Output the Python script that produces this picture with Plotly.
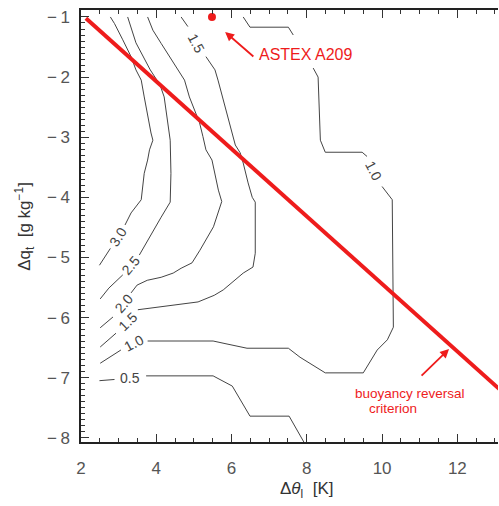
import plotly.graph_objects as go

# ---- data ----
# contour polylines (Δθ_l, Δq_t); None = gap where a label sits
c30_x = [2.78, 2.89, 3.11, 3.33, 3.46, 3.60, 3.68, 3.77, 3.86, 3.91, 3.82, 3.77, 3.68, 3.60, 3.33, 3.17, None, 2.78, 2.49]
c30_y = [-1.00, -1.11, -1.38, -1.66, -1.88, -2.05, -2.33, -2.66, -2.93, -3.05, -3.21, -3.38, -3.60, -4.04, -4.26, -4.46, None, -4.85, -5.13]

c25_x = [3.24, 3.46, 3.84, 4.10, 4.21, 4.29, 4.37, 4.39, 4.37, 4.13, 3.78, 3.55, None, 3.11, 2.74, 2.51]
c25_y = [-1.00, -1.43, -1.88, -2.13, -2.33, -2.66, -3.05, -3.60, -4.08, -4.33, -4.71, -4.96, None, -5.29, -5.51, -5.69]

c20_x = [3.77, 3.91, 4.13, 4.35, 4.57, 4.75, 4.88, 5.01, 5.15, 5.24, 5.32, 5.48, 5.65, 5.74, 5.65, 5.52, 5.16, 4.95, 4.66, 4.45, 4.13, 3.76, 3.49, 3.33, None, 2.85, 2.51]
c20_y = [-1.00, -1.22, -1.44, -1.66, -1.88, -2.05, -2.33, -2.55, -2.76, -2.99, -3.21, -3.38, -3.88, -4.07, -4.24, -4.49, -4.88, -5.09, -5.18, -5.26, -5.33, -5.38, -5.46, -5.59, None, -5.99, -6.17]

c15_x = [4.66, 4.84, None, 5.32, 5.56, 5.64, 5.78, 5.96, 6.10, 6.23, 6.31, 6.44, 6.55, 6.63, 6.63, 6.57, 6.31, 5.78, 5.54, 5.11, 3.78, 3.51, None, 2.93, 2.51]
c15_y = [-1.00, -1.16, None, -1.66, -1.88, -2.05, -2.38, -2.83, -3.13, -3.26, -3.43, -3.76, -4.00, -4.08, -4.93, -5.16, -5.26, -5.54, -5.63, -5.74, -5.84, -5.87, None, -6.26, -6.49]

c10_x = [6.31, 6.49, 7.51, 7.64, None, 8.17, 8.30, 8.36, 8.49, 9.47, 9.60, None, 10.00, 10.27, 10.30, 10.14, 9.87, 9.50, 8.49, 7.82, 7.51, 6.41, 5.88, 5.51, 3.77, None, 3.06, 2.51]
c10_y = [-1.00, -1.17, -1.17, -1.30, None, -1.85, -2.00, -3.05, -3.25, -3.25, -3.32, None, -3.82, -4.04, -6.16, -6.37, -6.54, -6.92, -6.92, -6.66, -6.51, -6.51, -6.44, -6.39, -6.39, None, -6.54, -6.76]

c05_x = [2.49, 2.89, None, 3.73, 5.51, 6.02, 6.49, 7.53, 7.93]
c05_y = [-7.05, -7.03, None, -6.97, -6.97, -7.14, -7.64, -7.64, -8.08]

contours = [(c30_x, c30_y), (c25_x, c25_y), (c20_x, c20_y),
            (c15_x, c15_y), (c10_x, c10_y), (c05_x, c05_y)]

# contour labels: text, x, y, angle
label_text = ["3.0", "2.5", "2.0", "1.5", "1.5", "1.0", "1.0", "0.5"]
label_x = [2.976, 3.33, 3.15, 3.26, 5.05, 3.41, 9.77, 3.29]
label_y = [-4.656, -5.13, -5.76, -6.06, -1.44, -6.42, -3.57, -7.00]
label_ang = [-58, -50, -49, -44, 62, -28, 63, 0]

# buoyancy reversal criterion line
crit_x = [2.13, 13.3]
crit_y = [-1.02, -1.02 - 0.5617 * (13.3 - 2.13)]

# ASTEX A209 point
astex_x = [5.48]
astex_y = [-1.00]

RED = "#ee1c1c"
GREY = "#444444"
FONT = "Liberation Sans, Arial, Helvetica, sans-serif"

fig = go.Figure()

for cx, cy in contours:
    fig.add_trace(go.Scatter(x=cx, y=cy, mode="lines", connectgaps=False,
                             line=dict(color=GREY, width=1), hoverinfo="skip",
                             showlegend=False))

fig.add_trace(go.Scatter(x=crit_x, y=crit_y, mode="lines",
                         line=dict(color=RED, width=4), showlegend=False))
fig.add_trace(go.Scatter(x=astex_x, y=astex_y, mode="markers",
                         marker=dict(color=RED, size=8), showlegend=False,
                         cliponaxis=False))

ann = []
for t, x, y, a in zip(label_text, label_x, label_y, label_ang):
    ann.append(dict(x=x, y=y, xref="x", yref="y", text=t, showarrow=False,
                    textangle=a, font=dict(family=FONT, size=14, color=GREY)))

# red annotations
ann.append(dict(x=6.68, y=-1.62, xref="x", yref="y", text="ASTEX A209",
                showarrow=False, xanchor="left",
                font=dict(family=FONT, size=16, color=RED)))
ann.append(dict(x=5.83, y=-1.25, ax=6.62, ay=-1.68, xref="x", yref="y",
                axref="x", ayref="y", text="", showarrow=True,
                arrowhead=2, arrowsize=1, arrowwidth=1.8, arrowcolor=RED))
ann.append(dict(x=10.73, y=-7.256, xref="x", yref="y", text="buoyancy reversal",
                showarrow=False, font=dict(family=FONT, size=13.5, color=RED)))
ann.append(dict(x=10.29, y=-7.506, xref="x", yref="y", text="criterion",
                showarrow=False, font=dict(family=FONT, size=13.5, color=RED)))
ann.append(dict(x=11.78, y=-6.524, ax=11.01, ay=-6.99, xref="x", yref="y",
                axref="x", ayref="y", text="", showarrow=True,
                arrowhead=2, arrowsize=1, arrowwidth=1.8, arrowcolor=RED))

# axis titles
ann.append(dict(x=0.54, y=-0.111, xref="paper", yref="paper",
                xanchor="center", yanchor="middle",
                text="Δ<i>θ</i><sub>l</sub>  [K]", showarrow=False,
                font=dict(family=FONT, size=17, color="#333")))
ann.append(dict(x=-0.137, y=0.5, xref="paper", yref="paper",
                xanchor="center", yanchor="middle",
                text="Δq<sub>t</sub>  [g kg<sup>−1</sup>]", showarrow=False,
                textangle=-90, font=dict(family=FONT, size=17, color="#333")))

yt_vals = [-8, -7, -6, -5, -4, -3, -2, -1]
yt_text = ["−\u2009" + str(abs(v)) for v in yt_vals]

fig.update_layout(
    width=499, height=506,
    margin=dict(l=81, r=1, t=10, b=64),
    paper_bgcolor="white", plot_bgcolor="white",
    showlegend=False,
    annotations=ann,
    xaxis=dict(range=[2, 13.08], tick0=2, dtick=2, ticks="inside", ticklen=8,
               tickwidth=1, tickcolor="#333", showline=True, linecolor="#222",
               linewidth=1.5, mirror="allticks", showgrid=False, zeroline=False,
               tickfont=dict(family=FONT, size=17, color="#555"),
               ticklabelstandoff=10,
               minor=dict(dtick=0.5, ticks="inside", ticklen=4, tickcolor="#333",
                          showgrid=False)),
    yaxis=dict(range=[-8.07, -0.884], tickvals=yt_vals, ticktext=yt_text,
               ticks="inside", ticklen=8, tickwidth=1, tickcolor="#333",
               showline=True, linecolor="#222", linewidth=1.5, mirror=False,
               showgrid=False, zeroline=False,
               tickfont=dict(family=FONT, size=17, color="#555"),
               ticklabelstandoff=6,
               minor=dict(dtick=0.1, tick0=-8, ticks="inside", ticklen=4,
                          tickcolor="#333", showgrid=False)),
)

fig.write_html("out.html")
